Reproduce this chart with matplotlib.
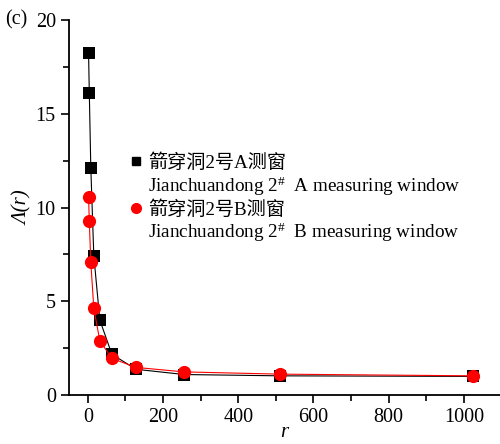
import numpy as np
import matplotlib
matplotlib.use("Agg")
import matplotlib.pyplot as plt
from matplotlib.lines import Line2D
from matplotlib.ticker import MultipleLocator

plt.rcParams['font.family'] = ['Liberation Serif', 'Noto Sans CJK SC']
plt.rcParams['mathtext.fontset'] = 'custom'
plt.rcParams['mathtext.rm'] = 'Liberation Serif'
plt.rcParams['mathtext.it'] = 'Liberation Serif:italic'

# data
r = [2, 4, 8, 16, 32, 64, 128, 256, 512, 1024]
lam_A = [18.25, 16.1, 12.1, 7.42, 4.0, 2.18, 1.38, 1.1, 1.03, 1.0]
lam_B = [10.54, 9.28, 7.08, 4.62, 2.9, 1.96, 1.48, 1.24, 1.12, 1.03]

label_A_cn = "箭穿洞2号A测窗"
label_A_en = "Jianchuandong 2$^{\\#}$  A measuring window"
label_B_cn = "箭穿洞2号B测窗"
label_B_en = "Jianchuandong 2$^{\\#}$  B measuring window"

fig = plt.figure(figsize=(5, 4.44), dpi=100)
ax = fig.add_axes([0.138, 0.11, 0.862, 0.845])

ax.plot(r, lam_A, color="black", linewidth=0.8, marker="s", markersize=8,
        markeredgewidth=0, zorder=2)
ax.plot(r, lam_B, color="red", linewidth=0.8, marker="o", markersize=9.5,
        markeredgewidth=0, zorder=3)

ax.set_xlim(-50, 1096)
ax.set_ylim(0, 20)
ax.xaxis.set_major_locator(MultipleLocator(200))
ax.xaxis.set_minor_locator(MultipleLocator(100))
ax.yaxis.set_major_locator(MultipleLocator(5))
ax.yaxis.set_minor_locator(MultipleLocator(2.5))
ax.spines['top'].set_visible(False)
ax.spines['right'].set_visible(False)
ax.spines['left'].set_linewidth(1.3)
ax.spines['bottom'].set_linewidth(1.3)
ax.tick_params(which='major', direction='out', length=6, width=1.2, labelsize=14.5)
ax.tick_params(which='minor', direction='out', length=4, width=1.2)

ax.set_xlabel("r", fontsize=15, style='italic', labelpad=-3)
ax.set_ylabel("Λ(r)", fontsize=15, style='italic', labelpad=2)

blank = Line2D([], [], linestyle='none', marker='')
hA = Line2D([], [], linestyle='none', marker='s', color='black', markersize=6)
hB = Line2D([], [], linestyle='none', marker='o', color='red', markersize=7)
ax.legend([hA, blank, hB, blank],
          [label_A_cn, label_A_en, label_B_cn, label_B_en],
          loc='upper left', bbox_to_anchor=(0.125, 0.665), frameon=False,
          fontsize=13.8, handlelength=0.6, handletextpad=0.3,
          labelspacing=0.12, borderaxespad=0)

fig.text(0.01, 0.955, "(c)", fontsize=14.5, va='center', ha='left')

plt.savefig("out.png", dpi=100)
